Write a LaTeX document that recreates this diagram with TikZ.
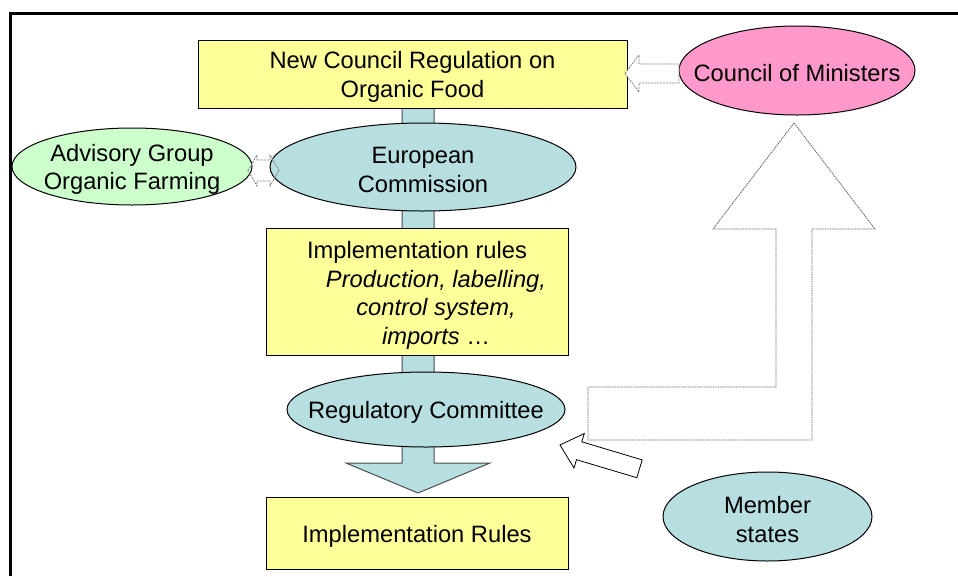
\documentclass[tikz,border=0pt]{standalone}
\usepackage{fontspec}
\setmainfont{Liberation Sans}
\usetikzlibrary{shapes.geometric}
\definecolor{boxyellow}{HTML}{FFFF99}
\definecolor{teal}{HTML}{B7DEE0}
\definecolor{mint}{HTML}{CCFFCC}
\definecolor{pinkc}{HTML}{FF99CC}
\definecolor{dashgray}{HTML}{808080}
\tikzset{
  ybox/.style={draw=black, line width=1pt, fill=boxyellow, inner sep=0pt},
  oval/.style={ellipse, draw=black, line width=1pt, inner sep=0pt},
  label text/.style={inner sep=0pt, align=center, yshift=-3pt},
  hollow/.style={draw=dashgray, line width=0.8pt, dash pattern=on 2pt off 1pt, fill=white},
  solidhollow/.style={draw=black, line width=0.8pt, fill=white},
  bar/.style={draw=black!70, line width=1pt, fill=teal},
  frame/.style={line width=3pt, black},
}
\begin{document}
\begin{tikzpicture}[x=1pt, y=-1pt, font=\fontsize{23.7}{28.6}\selectfont]
\useasboundingbox (0,0) rectangle (958,576);
% frame
\draw[frame] (10,576) -- (10,13) -- (958,13);
% long down block arrow behind everything
\draw[bar] (402,90) -- (434,90) -- (434,463) -- (490,463) -- (418,493) -- (346,463) -- (402,463) -- cycle;
% boxes
\node[ybox, minimum width=429pt, minimum height=68pt] (reg) at (412.5,74) {};
\node[label text] (regt) at (reg) {New Council Regulation on\\Organic Food};
\node[ybox, minimum width=302pt, minimum height=127pt] (impl) at (417,291.5) {};
\node[label text, yshift=-1pt] (implt) at (impl) {Implementation rules\\\hspace*{38pt}\itshape Production, labelling,\\\hspace*{38pt}\itshape control system,\\\hspace*{38pt}\itshape imports\upshape{} …};
\node[ybox, minimum width=302pt, minimum height=72pt] (ir) at (417,533) {};
\node[label text] (irt) at (ir) {Implementation Rules};
% ellipses
\node[oval, fill=teal, minimum width=306pt, minimum height=88pt] (ec) at (423,167) {};
\node[label text] (ect) at (ec) {European\\Commission};
\node[oval, fill=mint, minimum width=240pt, minimum height=77pt] (adv) at (132,166.5) {};
\node[label text] (advt) at (adv) {Advisory Group\\Organic Farming};
\node[oval, fill=teal, minimum width=278pt, minimum height=75pt] (rc) at (426,409.5) {};
\node[label text] (rct) at (rc) {Regulatory Committee};
\node[oval, fill=pinkc, minimum width=236pt, minimum height=89pt] (cm) at (797,70.5) {};
\node[label text] (cmt) at (cm) {Council of Ministers};
\node[oval, fill=teal, minimum width=209pt, minimum height=89pt] (ms) at (767.5,516.5) {};
\node[label text] (mst) at (ms) {Member\\states};
% double arrow advisory <-> commission
\draw[hollow, fill=none] (248,170.5) -- (257,155) -- (257,160) -- (270,160) -- (270,155) -- (279,170.5) -- (270,186) -- (270,181) -- (257,181) -- (257,186) -- cycle;
% council -> regulation
\draw[hollow] (625,73.5) -- (639,55) -- (639,64) -- (679,64) -- (679,83) -- (639,83) -- (639,92) -- cycle;
% big bent up arrow
\draw[hollow, draw=black!60, dash pattern=on 1.5pt off 0.8pt] (794,123) -- (875,229) -- (812,229) -- (812,440) -- (588,440) -- (588,387) -- (776,387) -- (776,229) -- (713,229) -- cycle;
% member states -> regulatory committee
\draw[solidhollow] (560,445) -- (584.3,433.5) -- (581.8,441.8) -- (642.2,459.9) -- (636.8,477.7) -- (576.5,459.7) -- (574,468) -- cycle;
\end{tikzpicture}
\end{document}
